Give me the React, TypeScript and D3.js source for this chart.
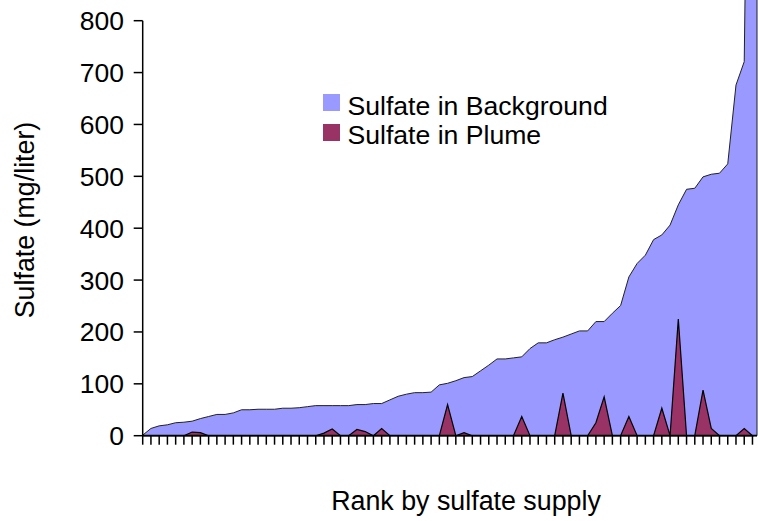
import React from 'react';
import * as d3 from 'd3';

const ranks: number[] = Array.from({ length: 75 }, (_, i) => i + 1);

const background: number[] = [
  1, 14, 19, 21, 25, 26, 28, 33, 37, 41,
  41, 44, 50, 50, 51, 51, 51, 53, 53, 54,
  56, 58, 58, 58, 58, 58, 60, 60, 62, 62,
  69, 76, 80, 83, 83, 84, 98, 101, 106, 112,
  114, 125, 136, 148, 148, 150, 152, 168, 179, 179,
  185, 190, 196, 202, 202, 220, 220, 236, 251, 306,
  332, 348, 378, 387, 406, 445, 475, 477, 499, 504,
  506, 524, 676, 721, 2000,
];

const plume: number[] = [
  0, 0, 0, 0, 0, 0, 7, 6, 0, 0,
  0, 0, 0, 0, 0, 0, 0, 0, 0, 0,
  0, 0, 5, 13, 0, 0, 12, 8, 0, 14,
  0, 0, 0, 0, 0, 0, 0, 60, 0, 6,
  0, 0, 0, 0, 0, 0, 37, 0, 0, 0,
  0, 82, 0, 0, 0, 25, 75, 0, 0, 37,
  0, 0, 0, 53, 0, 225, 0, 0, 88, 14,
  0, 0, 0, 14, 0,
];

const yTicks: number[] = [0, 100, 200, 300, 400, 500, 600, 700, 800];

const seriesNames = ['Sulfate in Background', 'Sulfate in Plume'];
const seriesColors = ['#9999FF', '#993366'];

export default function App() {
  const W = 758;
  const H = 521;
  const font = "'Liberation Sans', Arial, sans-serif";
  const n = ranks.length;
  const xEnd = n - 1 + 0.55;
  const x = d3.scaleLinear().domain([0, xEnd]).range([142.7, 757]);
  const y = d3.scaleLinear().domain([0, 800]).range([435.7, 20.7]);

  const bgPts: [number, number][] = background.map((v, i) => [i, v] as [number, number]);
  bgPts.push([xEnd, background[n - 1]]);
  const plPts: [number, number][] = plume.map((v, i) => [i, v] as [number, number]);

  const area = d3
    .area<[number, number]>()
    .x((d) => x(d[0]))
    .y0(y(0))
    .y1((d) => y(d[1]));

  const x0 = x(0);
  const yb = y(0);

  return (
    <svg
      width={W}
      height={H}
      style={{ position: 'absolute', left: 0, top: 0, background: '#fff' }}
      fontFamily={font}
    >
      <path d={area(bgPts) || ''} fill={seriesColors[0]} stroke="#222" strokeWidth={1} />
      <path d={area(plPts) || ''} fill={seriesColors[1]} stroke="#000" strokeWidth={1.2} strokeLinejoin="miter" />

      {/* Y axis */}
      <line x1={x0} x2={x0} y1={y(800)} y2={yb} stroke="#000" strokeWidth={1.5} />
      {yTicks.map((t) => (
        <g key={t}>
          <line x1={x0 - 9} x2={x0} y1={y(t)} y2={y(t)} stroke="#000" strokeWidth={1.5} />
          <text x={124} y={y(t) + 9.5} fontSize={26.5} textAnchor="end" fill="#000">
            {t}
          </text>
        </g>
      ))}

      {/* X axis */}
      <line x1={x0} x2={x(xEnd)} y1={yb} y2={yb} stroke="#000" strokeWidth={1.8} />
      {ranks.map((r, i) => (
        <line key={r} x1={x(i)} x2={x(i)} y1={yb} y2={yb + 9} stroke="#000" strokeWidth={1.5} />
      ))}

      {/* Axis titles */}
      <text
        transform={`translate(34,220) rotate(-90)`}
        fontSize={26.8}
        textAnchor="middle"
        fill="#000"
      >
        Sulfate (mg/liter)
      </text>
      <text x={466} y={510} fontSize={26.8} textAnchor="middle" fill="#000">
        Rank by sulfate supply
      </text>

      {/* Legend */}
      {seriesNames.map((name, i) => (
        <g key={name}>
          <rect x={323} y={94 + i * 30} width={17} height={17} fill={seriesColors[i]} />
          <text x={347.5} y={114.5 + i * 29.5} fontSize={26.6} fill="#000">
            {name}
          </text>
        </g>
      ))}
    </svg>
  );
}
